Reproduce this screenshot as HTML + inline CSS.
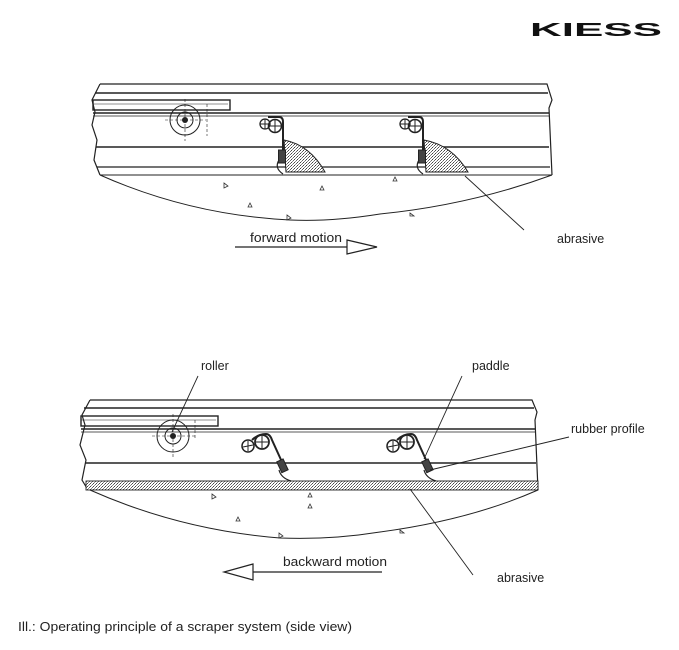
<!DOCTYPE html>
<html><head><meta charset="utf-8"><style>
html,body{margin:0;padding:0;background:#fff;}
svg{display:block;}
text{font-family:"Liberation Sans",Arial,sans-serif;fill:#222;}
</style></head><body>
<svg width="679" height="650" viewBox="0 0 679 650" xmlns="http://www.w3.org/2000/svg">
<defs>
<pattern id="dots" width="3" height="3" patternUnits="userSpaceOnUse">
<rect width="3" height="3" fill="#fff"/>
<rect x="0" y="0" width="1" height="1" fill="#444"/>
<rect x="2" y="1" width="1" height="1" fill="#666"/>
<rect x="1" y="2" width="1" height="1" fill="#888"/>
</pattern>
<g id="padTop">
<circle cx="265" cy="124" r="5" fill="none" stroke="#222" stroke-width="1.3"/>
<path d="M260 124h10M265 119v10" stroke="#222" stroke-width="1"/>
<circle cx="275" cy="126" r="6.5" fill="none" stroke="#222" stroke-width="1.6"/>
<path d="M269 126h12M275 120v12" stroke="#222" stroke-width="1"/>
<path d="M268 117 H279 Q283 117 283 122 V151" fill="none" stroke="#222" stroke-width="2"/>
<rect x="278.5" y="150" width="7" height="13" fill="#444" stroke="#222"/>
<path d="M279 160 Q274 168 283 174" fill="none" stroke="#222" stroke-width="1.2"/>
</g>
<g id="padBot">
<circle cx="248" cy="446" r="6" fill="none" stroke="#222" stroke-width="1.5"/>
<path d="M243 447l10 -2M248 441v10" stroke="#222" stroke-width="1"/>
<circle cx="262" cy="442" r="7" fill="none" stroke="#222" stroke-width="1.8"/>
<path d="M256 442h12M262 436v12" stroke="#222" stroke-width="1"/>
<path d="M252 440 Q258 434 266 434 Q270 434 272 440 L282 462" fill="none" stroke="#222" stroke-width="2"/>
<rect x="279" y="460" width="7" height="12" fill="#444" stroke="#222" transform="rotate(-25 282 466)"/>
<path d="M279 470 Q281 478 291 481" fill="none" stroke="#222" stroke-width="1.2"/>
</g>
</defs>

<text x="530" y="36" font-size="18" font-weight="bold" textLength="132" lengthAdjust="spacingAndGlyphs" style="fill:#111">KIESS</text>

<g stroke="#222" fill="none" stroke-width="1.2">
<path d="M100 84 H547 L552 100 L549 108 L552 175"/>
<path d="M100 84 L92 100 L95 112 L92 125 L97 140 L94 160 L100 175"/>
<path d="M95 93 H548" stroke-width="1.6"/>
<path d="M93 113 H549" stroke-width="1.6"/>
<path d="M93 116 H549" stroke-width="0.8"/>
<rect x="93" y="100" width="137" height="10" stroke-width="1.4"/>
<path d="M93 104 H228" stroke-width="0.6"/>
<path d="M96 147 H549" stroke-width="1.4"/>
<path d="M97 167 H550" stroke-width="1.2"/>
<path d="M100 175 H552" stroke-width="1"/>
<path d="M100 175 Q190 215 290 220 Q330 222 380 214 Q470 205 552 175" stroke-width="1"/>
<circle cx="185" cy="120" r="15" stroke-width="1"/>
<circle cx="185" cy="120" r="8" stroke-width="1"/>
<path d="M165 120 H206 M185 99 V141" stroke-width="0.6" stroke-dasharray="3 2"/>
<path d="M207 104 V136" stroke-width="0.6" stroke-dasharray="3 2"/>
</g>
<circle cx="185" cy="120" r="3" fill="#222"/>
<path d="M284 140 Q310 145 325 172 H286 Z" fill="url(#dots)" stroke="#222" stroke-width="1"/>
<path d="M424 140 Q452 145 468 172 H426 Z" fill="url(#dots)" stroke="#222" stroke-width="1"/>
<use href="#padTop"/>
<use href="#padTop" transform="translate(140,0)"/>
<g fill="none" stroke="#333" stroke-width="0.8">
<path d="M224 183l4 3l-4 2z"/><path d="M320 190l4 0l-2 -4z"/><path d="M393 181l4 0l-2 -4z"/>
<path d="M248 207l4 0l-2 -4z"/><path d="M287 215l4 3l-4 2z"/><path d="M410 213l4 3l-4 0z"/>
</g>
<path d="M465 176 L524 230" stroke="#222" stroke-width="0.9"/>
<text x="557" y="243" font-size="12.5">abrasive</text>
<text x="250" y="242" font-size="12.5" textLength="92" lengthAdjust="spacingAndGlyphs">forward motion</text>
<path d="M235 247 H347" stroke="#222" stroke-width="1.3"/>
<path d="M347 240 L377 247 L347 254 Z" fill="#fff" stroke="#222" stroke-width="1.2"/>

<g stroke="#222" fill="none" stroke-width="1.2">
<path d="M90 400 H532 L537 412 L535 420 L538 490"/>
<path d="M90 400 L82 415 L85 425 L80 445 L86 460 L82 480 L88 490"/>
<path d="M84 408 H534" stroke-width="1.6"/>
<path d="M81 429 H535" stroke-width="1.6"/>
<path d="M81 432 H535" stroke-width="0.8"/>
<rect x="81" y="416" width="137" height="10" stroke-width="1.4"/>
<path d="M81 420 H216" stroke-width="0.6"/>
<path d="M85 463 H536" stroke-width="1.4"/>
<path d="M90 490 Q180 530 280 538 Q330 540 380 532 Q470 520 538 490" stroke-width="1"/>
<circle cx="173" cy="436" r="16" stroke-width="1"/>
<circle cx="173" cy="436" r="8" stroke-width="1"/>
<path d="M152 436 H195 M173 414 V458" stroke-width="0.6" stroke-dasharray="3 2"/>
<path d="M195 420 V440" stroke-width="0.6" stroke-dasharray="3 2"/>
</g>
<circle cx="173" cy="436" r="3" fill="#222"/>
<rect x="86" y="481" width="452" height="9" fill="url(#dots)" stroke="#222" stroke-width="0.9"/>
<use href="#padBot"/>
<use href="#padBot" transform="translate(145,0)"/>
<g fill="none" stroke="#333" stroke-width="0.8">
<path d="M212 494l4 3l-4 2z"/><path d="M308 497l4 0l-2 -4z"/><path d="M308 508l4 0l-2 -4z"/>
<path d="M236 521l4 0l-2 -4z"/><path d="M279 533l4 3l-4 2z"/><path d="M400 530l4 3l-4 0z"/>
</g>
<text x="201" y="370" font-size="12.5">roller</text>
<path d="M198 376 L172 432" stroke="#222" stroke-width="0.9"/>
<text x="472" y="370" font-size="12.5">paddle</text>
<path d="M462 376 L424 459" stroke="#222" stroke-width="0.9"/>
<text x="571" y="433" font-size="12.5">rubber profile</text>
<path d="M569 437 L430 470" stroke="#222" stroke-width="0.9"/>
<text x="497" y="582" font-size="12.5">abrasive</text>
<path d="M410 489 L473 575" stroke="#222" stroke-width="0.9"/>
<text x="283" y="566" font-size="12.5" textLength="104" lengthAdjust="spacingAndGlyphs">backward motion</text>
<path d="M250 572 H382" stroke="#222" stroke-width="1.3"/>
<path d="M253 564 L224 572 L253 580 Z" fill="#fff" stroke="#222" stroke-width="1.2"/>

<text x="18" y="631" font-size="12.5" textLength="334" lengthAdjust="spacingAndGlyphs">Ill.: Operating principle of a scraper system (side view)</text>
</svg>
</body></html>
